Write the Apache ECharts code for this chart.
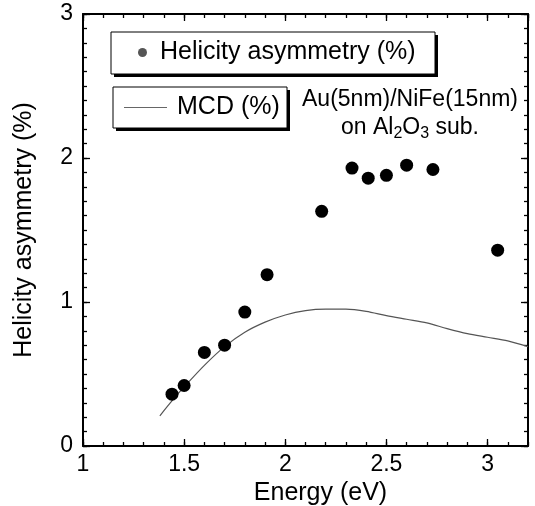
<!DOCTYPE html>
<html>
<head>
<meta charset="utf-8">
<script src="https://cdn.jsdelivr.net/npm/echarts@6/dist/echarts.min.js"></script>
<style>
  html, body { margin: 0; padding: 0; background: #fff; }
  #chart { width: 535px; height: 506px; }
</style>
</head>
<body>
<div id="chart"></div>
<script>
// helicity asymmetry points (eV, %)
var helE = [1.44, 1.50, 1.60, 1.70, 1.80, 1.91, 2.18, 2.33, 2.41, 2.50, 2.60, 2.73, 3.05];
var helV = [0.36, 0.42, 0.65, 0.70, 0.93, 1.19, 1.63, 1.93, 1.86, 1.88, 1.95, 1.92, 1.36];

// MCD curve (eV, %)
var mcdE = [1.38, 1.45, 1.50, 1.60, 1.70, 1.80, 1.90, 2.00, 2.10, 2.20, 2.30, 2.40, 2.50, 2.60, 2.70, 2.80, 2.90, 3.00, 3.10, 3.20];
var mcdV = [0.21, 0.33, 0.41, 0.56, 0.69, 0.79, 0.86, 0.91, 0.94, 0.95, 0.95, 0.935, 0.905, 0.88, 0.855, 0.815, 0.78, 0.755, 0.73, 0.69];

var helName = 'Helicity asymmetry (%)';
var mcdName = 'MCD (%)';
var xName = 'Energy (eV)';
var yName = 'Helicity asymmetry (%)';
var sampleText = '{a|Au(5nm)/NiFe(15nm)}\n{a|on Al}{s|2}{a|O}{s|3}{a| sub.}';

var font = 'Liberation Sans';

function pairs(xs, ys) {
    var out = [];
    for (var i = 0; i < xs.length; i++) {
        out.push([xs[i], ys[i]]);
    }
    return out;
}

function xAxisDef(pos, interval, tickLen, main) {
    return {
        type: 'value', position: pos, min: 1, max: 3.2, interval: interval,
        axisLine: { show: main, onZero: false, lineStyle: { color: '#000', width: 2 } },
        axisTick: { show: true, inside: true, length: tickLen, lineStyle: { color: '#000', width: 1.3 } },
        axisLabel: { show: false },
        splitLine: { show: false }
    };
}
function yAxisDef(pos, interval, tickLen, main) {
    return {
        type: 'value', position: pos, min: 0, max: 3, interval: interval,
        axisLine: { show: main, onZero: false, lineStyle: { color: '#000', width: 2 } },
        axisTick: { show: true, inside: true, length: tickLen, lineStyle: { color: '#000', width: 1.3 } },
        axisLabel: { show: false },
        splitLine: { show: false }
    };
}

var xMain = xAxisDef('bottom', 0.5, 7, true);
xMain.axisLabel = { show: true, color: '#000', fontFamily: font, fontSize: 23, margin: 7, showMaxLabel: false };
xMain.name = xName;
xMain.nameLocation = 'middle';
xMain.nameGap = 29;
xMain.nameTextStyle = { color: '#000', fontFamily: font, fontSize: 25, padding: [0, 0, 0, 30] };

var yMain = yAxisDef('left', 1, 7, true);
yMain.axisLabel = { show: true, color: '#000', fontFamily: font, fontSize: 23, margin: 10 };
yMain.name = yName;
yMain.nameLocation = 'middle';
yMain.nameGap = 46;
yMain.nameTextStyle = { color: '#000', fontFamily: font, fontSize: 25 };

// legend frames: drop shadow + white box
function frame(x, y, w, h) {
    return [
        { type: 'rect', z: 1, shape: { x: x + 3, y: y + 3, width: w, height: h }, style: { fill: '#000' } },
        { type: 'rect', z: 2, shape: { x: x, y: y, width: w, height: h }, style: { fill: '#fff', stroke: '#000', lineWidth: 1 } }
    ];
}

var chart = echarts.init(document.getElementById('chart'));
chart.setOption({
    backgroundColor: '#fff',
    animation: false,
    grid: { left: 83, right: 7, top: 14, bottom: 60, outerBoundsMode: 'none', containLabel: false },
    xAxis: [
        xAxisDef('bottom', 0.1, 4, false),
        xMain,
        xAxisDef('top', 0.5, 7, true),
        xAxisDef('top', 0.1, 4, false)
    ],
    yAxis: [
        yAxisDef('left', 0.1, 4, false),
        yMain,
        yAxisDef('right', 1, 7, true),
        yAxisDef('right', 0.1, 4, false)
    ],
    legend: [
        {
            data: [{ name: helName, icon: 'circle', itemStyle: { color: '#555' } }],
            left: 138, top: 40,
            itemWidth: 9, itemHeight: 9,
            padding: 0, z: 10,
            selectedMode: false,
            textStyle: { color: '#000', fontFamily: font, fontSize: 25, padding: [0, 0, 0, 8] }
        },
        {
            data: [{ name: mcdName, icon: 'rect', itemStyle: { color: '#666' } }],
            left: 124, top: 95,
            itemWidth: 43, itemHeight: 1,
            padding: 0, z: 10,
            selectedMode: false,
            textStyle: { color: '#000', fontFamily: font, fontSize: 25, padding: [0, 0, 0, 5] }
        }
    ],
    graphic: frame(111, 32, 324, 42).concat(frame(113, 87, 174, 41)).concat([
        {
            type: 'text', x: 410, y: 86, z: 3,
            style: {
                text: sampleText,
                align: 'center', verticalAlign: 'top',
                fill: '#000', fontFamily: font, fontSize: 23,
                rich: {
                    a: { fontFamily: font, fontSize: 23, lineHeight: 28, fill: '#000' },
                    s: { fontFamily: font, fontSize: 16, lineHeight: 20, verticalAlign: 'bottom', fill: '#000' }
                }
            }
        }
    ]),
    series: [
        {
            name: mcdName,
            type: 'line',
            xAxisIndex: 1, yAxisIndex: 1,
            data: pairs(mcdE, mcdV),
            symbol: 'none',
            smooth: 0.3,
            lineStyle: { color: '#555', width: 1.2 },
            itemStyle: { color: '#555' },
            z: 2
        },
        {
            name: helName,
            type: 'scatter',
            xAxisIndex: 1, yAxisIndex: 1,
            data: pairs(helE, helV),
            symbol: 'circle',
            symbolSize: 13,
            itemStyle: { color: '#000', opacity: 1 },
            z: 3
        }
    ]
});
</script>
</body>
</html>
